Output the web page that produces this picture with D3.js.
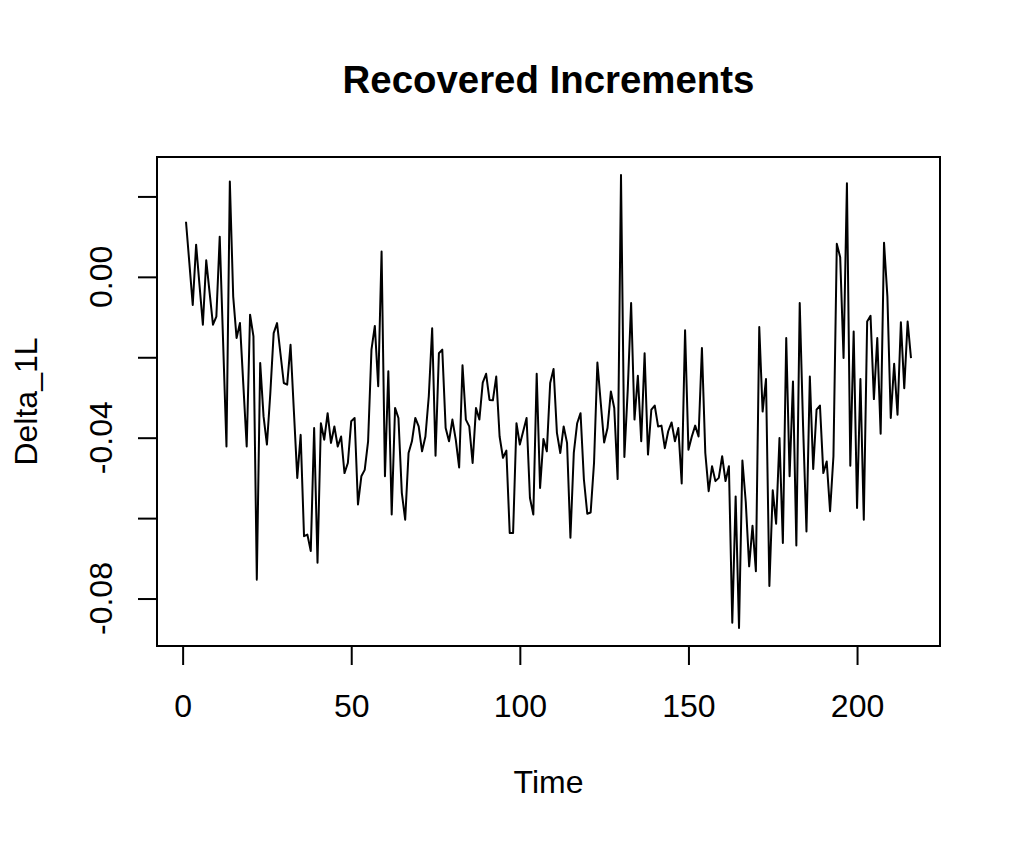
<!DOCTYPE html>
<html>
<head>
<meta charset="utf-8">
<script src="https://cdn.jsdelivr.net/npm/d3@7"></script>
<style>
  html, body { margin: 0; padding: 0; background: #ffffff; }
  svg { display: block; }
  text { font-family: "Liberation Sans", Arial, Helvetica, sans-serif; fill: #000; }
</style>
</head>
<body>
<svg id="chart" width="1020" height="842"></svg>
<script>
// ---- data ----
const title = "Recovered Increments";
const xLabel = "Time";
const yLabel = "Delta_1L";
const xTicks = [0, 50, 100, 150, 200];
const yTicks = [-0.08, -0.06, -0.04, -0.02, 0.00, 0.02];
const yTickLabels = ["-0.08", "", "-0.04", "", "0.00", ""];
const delta1L = [
  0.0137, 0.0034, -0.0070, 0.0080, -0.0020, -0.0119, 0.0041, -0.0039, -0.0119, -0.0099,
  0.0100, -0.0161, -0.0422, 0.0237, -0.0049, -0.0152, -0.0115, -0.0268, -0.0422, -0.0094,
  -0.0148, -0.0753, -0.0214, -0.0347, -0.0417, -0.0290, -0.0140, -0.0115, -0.0190, -0.0264,
  -0.0268, -0.0169, -0.0335, -0.0500, -0.0393, -0.0645, -0.0641, -0.0682, -0.0376, -0.0711,
  -0.0364, -0.0405, -0.0339, -0.0413, -0.0372, -0.0422, -0.0397, -0.0488, -0.0463, -0.0359,
  -0.0351, -0.0566, -0.0496, -0.0480, -0.0409, -0.0181, -0.0122, -0.0272, 0.0063, -0.0496,
  -0.0235, -0.0591, -0.0326, -0.0351, -0.0537, -0.0604, -0.0438, -0.0409, -0.0351, -0.0372,
  -0.0434, -0.0397, -0.0297, -0.0128, -0.0445, -0.0190, -0.0181, -0.0376, -0.0409, -0.0355,
  -0.0405, -0.0474, -0.0220, -0.0355, -0.0372, -0.0463, -0.0326, -0.0355, -0.0263, -0.0241,
  -0.0306, -0.0307, -0.0248, -0.0397, -0.0450, -0.0432, -0.0637, -0.0637, -0.0364, -0.0417,
  -0.0384, -0.0351, -0.0550, -0.0591, -0.0241, -0.0525, -0.0403, -0.0434, -0.0264, -0.0229,
  -0.0388, -0.0438, -0.0372, -0.0413, -0.0649, -0.0438, -0.0364, -0.0339, -0.0504, -0.0589,
  -0.0586, -0.0463, -0.0213, -0.0314, -0.0412, -0.0376, -0.0285, -0.0326, -0.0503, 0.0253,
  -0.0448, -0.0281, -0.0065, -0.0355, -0.0246, -0.0409, -0.0190, -0.0442, -0.0330, -0.0320,
  -0.0372, -0.0370, -0.0426, -0.0384, -0.0362, -0.0409, -0.0376, -0.0514, -0.0133, -0.0430,
  -0.0397, -0.0370, -0.0397, -0.0177, -0.0438, -0.0533, -0.0471, -0.0508, -0.0500, -0.0446,
  -0.0508, -0.0471, -0.0860, -0.0546, -0.0873, -0.0457, -0.0560, -0.0720, -0.0619, -0.0732,
  -0.0125, -0.0335, -0.0254, -0.0769, -0.0531, -0.0614, -0.0401, -0.0662, -0.0152, -0.0496,
  -0.0260, -0.0668, -0.0065, -0.0372, -0.0633, -0.0248, -0.0478, -0.0330, -0.0320, -0.0488,
  -0.0459, -0.0583, -0.0446, 0.0082, 0.0049, -0.0202, 0.0233, -0.0470, -0.0136, -0.0575,
  -0.0254, -0.0604, -0.0111, -0.0097, -0.0304, -0.0152, -0.0390, 0.0085, -0.0049, -0.0351,
  -0.0216, -0.0343, -0.0113, -0.0277, -0.0111, -0.0202
];
const timeIdx = delta1L.map((_, i) => i + 1);

// ---- layout ----
const plot = { left: 157, top: 157, right: 940, bottom: 646 };
const svg = d3.select("#chart");

function padExtent(ext) {
  const d = (ext[1] - ext[0]) * 0.04;
  return [ext[0] - d, ext[1] + d];
}
const x = d3.scaleLinear().domain(padExtent(d3.extent(timeIdx))).range([plot.left, plot.right]);
const y = d3.scaleLinear().domain(padExtent(d3.extent(delta1L))).range([plot.bottom, plot.top]);

// series line
const line = d3.line().x((d, i) => x(timeIdx[i])).y(d => y(d));
svg.append("path")
  .datum(delta1L)
  .attr("d", line)
  .attr("fill", "none")
  .attr("stroke", "#000")
  .attr("stroke-width", 2)
  .attr("stroke-linejoin", "round");

// box
svg.append("rect")
  .attr("x", plot.left).attr("y", plot.top)
  .attr("width", plot.right - plot.left).attr("height", plot.bottom - plot.top)
  .attr("fill", "none").attr("stroke", "#000").attr("stroke-width", 2);

// x axis
const xAxis = d3.axisBottom(x).tickValues(xTicks).tickSize(19).tickSizeOuter(0).tickPadding(29)
  .tickFormat(d3.format("d"));
const gx = svg.append("g").attr("transform", `translate(0,${plot.bottom})`).call(xAxis);
gx.select(".domain").remove();
gx.selectAll(".tick line").attr("stroke", "#000").attr("stroke-width", 2);
gx.selectAll(".tick text").attr("font-size", 32).attr("fill", "#000")
  .attr("font-family", "Liberation Sans, Arial, Helvetica, sans-serif");
gx.append("line")
  .attr("x1", x(xTicks[0])).attr("x2", x(xTicks[xTicks.length - 1]))
  .attr("y1", 0).attr("y2", 0).attr("stroke", "#000").attr("stroke-width", 2);

// y axis
const yAxis = d3.axisLeft(y).tickValues(yTicks).tickSize(19).tickSizeOuter(0).tickFormat("");
const gy = svg.append("g").attr("transform", `translate(${plot.left},0)`).call(yAxis);
gy.select(".domain").remove();
gy.selectAll(".tick line").attr("stroke", "#000").attr("stroke-width", 2);
gy.append("line")
  .attr("x1", 0).attr("x2", 0)
  .attr("y1", y(yTicks[0])).attr("y2", y(yTicks[yTicks.length - 1]))
  .attr("stroke", "#000").attr("stroke-width", 2);
svg.append("g").selectAll("text")
  .data(yTicks.map((v, i) => ({ v, label: yTickLabels[i] })).filter(d => d.label !== ""))
  .join("text")
  .attr("transform", d => `translate(112,${y(d.v)}) rotate(-90)`)
  .attr("text-anchor", "middle")
  .attr("font-size", 32)
  .text(d => d.label);

// title and axis labels
svg.append("text")
  .attr("x", (plot.left + plot.right) / 2).attr("y", 93)
  .attr("text-anchor", "middle").attr("font-size", 38.4).attr("font-weight", "bold")
  .text(title);
svg.append("text")
  .attr("x", (plot.left + plot.right) / 2).attr("y", 793)
  .attr("text-anchor", "middle").attr("font-size", 32)
  .text(xLabel);
svg.append("text")
  .attr("transform", `translate(37,${(plot.top + plot.bottom) / 2}) rotate(-90)`)
  .attr("text-anchor", "middle").attr("font-size", 32)
  .text(yLabel);
</script>
</body>
</html>
